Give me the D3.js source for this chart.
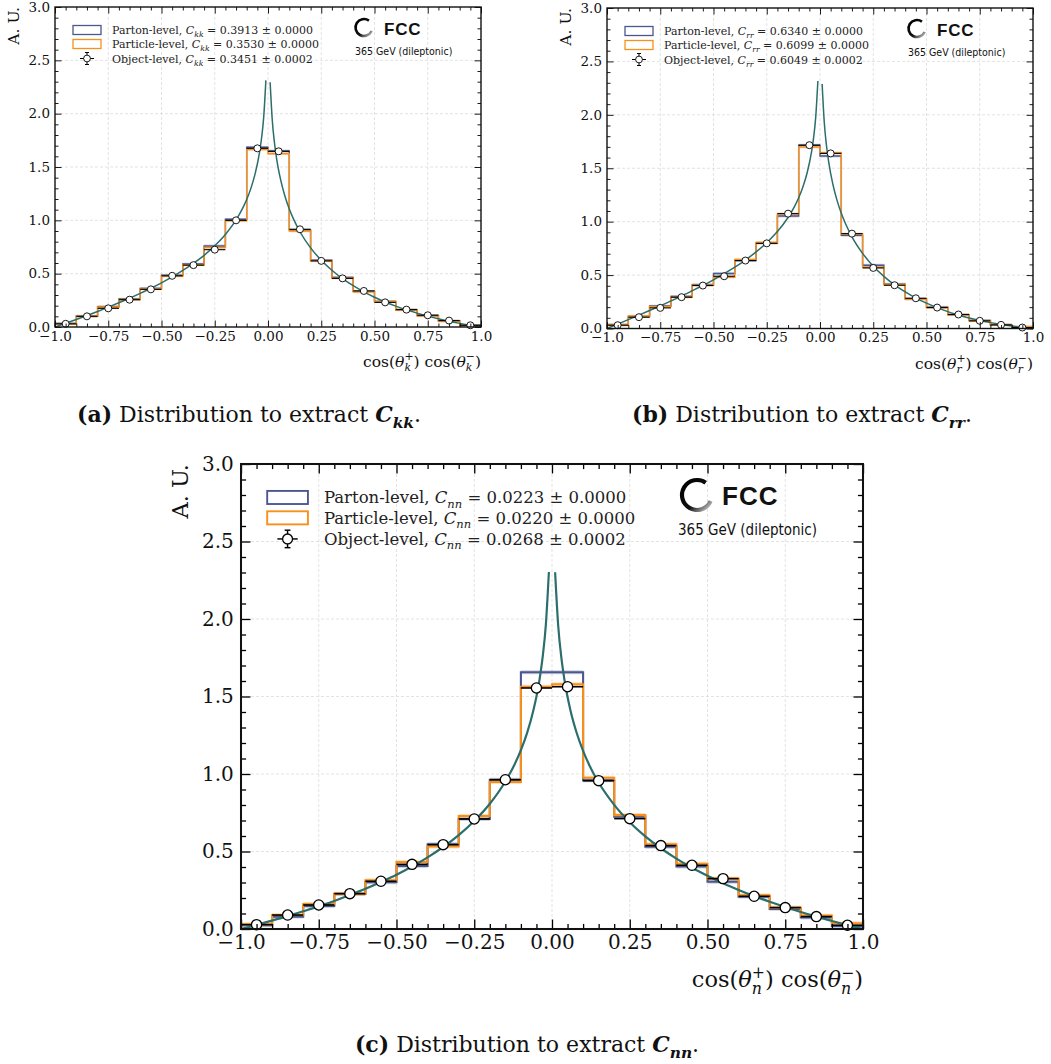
<!DOCTYPE html>
<html>
<head>
<meta charset="utf-8">
<script src="https://cdn.jsdelivr.net/npm/d3@7"></script>
<style>
body { margin: 0; background: #fff; }
svg { display: block; font-family: "DejaVu Serif", serif; }
</style>
</head>
<body>
<div id="fig"></div>
<script>
// bins of cos*cos, width 0.1
var binCenters = [-0.95,-0.85,-0.75,-0.65,-0.55,-0.45,-0.35,-0.25,-0.15,-0.05,0.05,0.15,0.25,0.35,0.45,0.55,0.65,0.75,0.85,0.95];
var xTicks = [-1,-0.75,-0.5,-0.25,0,0.25,0.5,0.75,1];
var xTickLabels = ["\u22121.0","\u22120.75","\u22120.50","\u22120.25","0.00","0.25","0.50","0.75","1.0"];
var yTicks = [0,0.5,1,1.5,2,2.5,3];
var yTickLabels = ["0.0","0.5","1.0","1.5","2.0","2.5","3.0"];

// C_kk
var kkParton   = [0.032,0.102,0.190,0.262,0.362,0.485,0.590,0.760,1.010,1.685,1.650,0.910,0.625,0.465,0.335,0.240,0.162,0.108,0.058,0.016];
var kkParticle = [0.030,0.100,0.188,0.258,0.357,0.478,0.582,0.745,0.995,1.665,1.625,0.900,0.620,0.458,0.330,0.238,0.160,0.105,0.056,0.015];
var kkObject   = [0.030,0.100,0.175,0.256,0.353,0.480,0.580,0.725,1.000,1.675,1.647,0.916,0.620,0.456,0.338,0.231,0.163,0.110,0.060,0.016];
// C_rr
var rrParton   = [0.035,0.112,0.210,0.300,0.410,0.514,0.636,0.800,1.053,1.716,1.614,0.872,0.592,0.415,0.278,0.200,0.130,0.074,0.036,0.016];
var rrParticle = [0.035,0.115,0.205,0.293,0.405,0.480,0.645,0.805,1.075,1.698,1.645,0.885,0.573,0.411,0.274,0.196,0.128,0.072,0.034,0.016];
var rrObject   = [0.031,0.106,0.193,0.293,0.402,0.489,0.636,0.797,1.075,1.716,1.639,0.888,0.567,0.405,0.283,0.196,0.131,0.072,0.034,0.009];
// C_nn
var nnParton   = [0.024,0.080,0.148,0.226,0.302,0.406,0.546,0.710,0.963,1.656,1.656,0.959,0.725,0.531,0.404,0.305,0.209,0.130,0.075,0.019];
var nnParticle = [0.030,0.090,0.161,0.228,0.314,0.432,0.533,0.729,0.948,1.563,1.579,0.976,0.735,0.546,0.421,0.325,0.217,0.138,0.086,0.037];
var nnObject   = [0.028,0.090,0.155,0.228,0.308,0.417,0.544,0.710,0.963,1.555,1.563,0.957,0.712,0.538,0.411,0.325,0.211,0.138,0.080,0.024];

var curveX = [-1,-0.95,-0.9,-0.85,-0.8,-0.75,-0.7,-0.65,-0.6,-0.55,-0.5,-0.45,-0.4,-0.35,-0.3,-0.25,-0.2,-0.15,-0.12,-0.1,-0.08,-0.06,-0.04,-0.03,-0.02,-0.01,0,
              0.01,0.02,0.03,0.04,0.06,0.08,0.1,0.12,0.15,0.2,0.25,0.3,0.35,0.4,0.45,0.5,0.55,0.6,0.65,0.7,0.75,0.8,0.85,0.9,0.95,1];
var kkCurve = [0,0.035,0.071,0.108,0.146,0.186,0.227,0.270,0.315,0.363,0.414,0.469,0.530,0.597,0.672,0.761,0.868,1.004,1.110,1.196,1.302,1.440,1.635,1.774,1.971,2.312,null,
               2.294,1.941,1.733,1.584,1.374,1.223,1.106,1.011,0.893,0.742,0.626,0.532,0.453,0.387,0.329,0.279,0.235,0.196,0.161,0.130,0.102,0.077,0.054,0.034,0.016,0];
var rrCurve = [0,0.041,0.083,0.125,0.168,0.212,0.258,0.304,0.353,0.403,0.456,0.513,0.574,0.641,0.717,0.803,0.907,1.039,1.141,1.224,1.327,1.460,1.650,1.787,1.981,2.317,null,
               2.288,1.931,1.720,1.569,1.353,1.199,1.078,0.980,0.858,0.703,0.583,0.488,0.408,0.342,0.285,0.237,0.195,0.158,0.127,0.099,0.075,0.055,0.038,0.023,0.010,0];
var nnCurve = [0,0.026,0.054,0.083,0.114,0.146,0.181,0.219,0.259,0.303,0.350,0.403,0.462,0.529,0.606,0.697,0.808,0.952,1.063,1.154,1.265,1.409,1.611,1.755,1.957,2.303,null,
               2.302,1.955,1.752,1.608,1.405,1.261,1.149,1.057,0.945,0.801,0.689,0.598,0.521,0.454,0.395,0.343,0.295,0.252,0.212,0.176,0.142,0.110,0.080,0.052,0.025,0];

var kkValues = ["0.3913 \u00b1 0.0000","0.3530 \u00b1 0.0000","0.3451 \u00b1 0.0002"];
var rrValues = ["0.6340 \u00b1 0.0000","0.6099 \u00b1 0.0000","0.6049 \u00b1 0.0002"];
var nnValues = ["0.0223 \u00b1 0.0000","0.0220 \u00b1 0.0000","0.0268 \u00b1 0.0002"];

var partonColor = "#4b5890";
var particleColor = "#f8901a";
var curveColor = "#2b6e6c";

var svg = d3.select("#fig").append("svg")
    .attr("width", 1051)
    .attr("height", 1064);

var defs = svg.append("defs");
var grad = defs.append("linearGradient").attr("id","ringGrad")
    .attr("x1","0.1").attr("y1","0.1").attr("x2","0.9").attr("y2","0.95");
grad.append("stop").attr("offset","0%").attr("stop-color","#000");
grad.append("stop").attr("offset","60%").attr("stop-color","#111");
grad.append("stop").attr("offset","100%").attr("stop-color","#cfcfcf");

// writes text made of pieces: italic, sub, sup, bold
function richText(sel, parts, fs) {
    var base = 0, lastSup = 0, pendingDx = 0;
    parts.forEach(function(p){
        var t = sel.append("tspan").text(p.t);
        if (p.i) t.attr("font-style","italic");
        if (p.b) t.attr("font-weight","bold");
        var target = 0, size = fs;
        if (p.sub) { target = 0.28*fs; size = 0.7*fs; }
        if (p.sup) { target = -0.42*fs; size = 0.7*fs; }
        t.attr("font-size", size);
        if (target !== base) { t.attr("dy", target - base); base = target; }
        var dx = pendingDx;
        pendingDx = 0;
        if (p.back) dx -= lastSup;
        if (dx) t.attr("dx", dx);
        var len = t.node().getComputedTextLength();
        if (p.sup) lastSup = len;
        if (p.back && lastSup > len) pendingDx = lastSup - len;
    });
}

function drawPanel(p) {
    var s = p.s;
    var x = d3.scaleLinear().domain([-1,1]).range([p.x0,p.x1]);
    var y = d3.scaleLinear().domain([0,3]).range([p.y1,p.y0]);
    var g = svg.append("g");

    // grid
    g.append("g").selectAll("line").data(xTicks.slice(1,-1)).join("line")
        .attr("x1",d=>x(d)).attr("x2",d=>x(d)).attr("y1",p.y0).attr("y2",p.y1)
        .attr("stroke","#dcdcdc").attr("stroke-width",0.8).attr("stroke-dasharray","3,2");
    g.append("g").selectAll("line").data(yTicks.slice(1,-1)).join("line")
        .attr("y1",d=>y(d)).attr("y2",d=>y(d)).attr("x1",p.x0).attr("x2",p.x1)
        .attr("stroke","#dcdcdc").attr("stroke-width",0.8).attr("stroke-dasharray","3,2");

    function steps(vals) {
        var pts = [[-1,0]];
        vals.forEach(function(v,i){
            pts.push([binCenters[i]-0.05, v]);
            pts.push([binCenters[i]+0.05, v]);
        });
        pts.push([1,0]);
        return pts;
    }
    var line = d3.line().x(d=>x(d[0])).y(d=>y(d[1]));
    var band = d3.area().x(d=>x(d[0])).y0(d=>y(d[1]-0.013)).y1(d=>y(d[1]+0.013));

    [[p.parton, partonColor],[p.particle, particleColor]].forEach(function(h){
        var pts = steps(h[0]);
        g.append("path").attr("d", band(pts.slice(1,-1)))
            .attr("fill", h[1]).attr("opacity", 0.28);
    });
    [[p.parton, partonColor],[p.particle, particleColor]].forEach(function(h){
        g.append("path").attr("d", line(steps(h[0])))
            .attr("fill","none").attr("stroke", h[1]).attr("stroke-width", 1.45*s);
    });

    // expected curve
    var cl = d3.line().defined(d=>d[1] != null)
        .x(d=>x(d[0])).y(d=>y(d[1])).curve(d3.curveMonotoneX);
    g.append("path").attr("d", cl(curveX.map((v,i)=>[v, p.curve[i]])))
        .attr("fill","none").attr("stroke",curveColor).attr("stroke-width",1.5*s);

    // object level points
    var pg = g.append("g");
    pg.selectAll("line").data(p.object).join("line")
        .attr("x1",(d,i)=>x(binCenters[i]-0.05)).attr("x2",(d,i)=>x(binCenters[i]+0.05))
        .attr("y1",d=>y(d)).attr("y2",d=>y(d))
        .attr("stroke","#000").attr("stroke-width",1.1*s);
    pg.selectAll("circle").data(p.object).join("circle")
        .attr("cx",(d,i)=>x(binCenters[i])).attr("cy",d=>y(d)).attr("r",3.5*s)
        .attr("fill","#fff").attr("stroke","#000").attr("stroke-width",0.9*s);

    // axes with inward ticks on all sides
    var fmtX = d => xTickLabels[xTicks.indexOf(d)];
    var fmtY = d => yTickLabels[yTicks.indexOf(d)];
    var xMinor = d3.range(-1, 1.001, 0.05).filter(v => xTicks.every(t => Math.abs(t - v) > 1e-6));
    var yMinor = d3.range(0, 3.001, 0.1).filter(v => yTicks.every(t => Math.abs(t - v) > 1e-6));
    var major = 6.5*s, minor = 3.5*s;

    function addAxis(axis, tr) {
        var a = g.append("g").attr("transform", tr).call(axis);
        a.select(".domain").remove();
        a.selectAll("line").attr("stroke","#000").attr("stroke-width",0.9*s);
        a.selectAll("text").attr("font-size",p.fs).attr("font-family","DejaVu Serif, serif").attr("fill","#111");
        return a;
    }
    addAxis(d3.axisBottom(x).tickValues(xTicks).tickFormat(fmtX).tickSize(-major).tickPadding(4*s), "translate(0,"+p.y1+")");
    addAxis(d3.axisBottom(x).tickValues(xMinor).tickFormat("").tickSize(-minor), "translate(0,"+p.y1+")");
    addAxis(d3.axisTop(x).tickValues(xTicks).tickFormat("").tickSize(-major), "translate(0,"+p.y0+")");
    addAxis(d3.axisTop(x).tickValues(xMinor).tickFormat("").tickSize(-minor), "translate(0,"+p.y0+")");
    addAxis(d3.axisLeft(y).tickValues(yTicks).tickFormat(fmtY).tickSize(-major).tickPadding(5*s), "translate("+p.x0+",0)");
    addAxis(d3.axisLeft(y).tickValues(yMinor).tickFormat("").tickSize(-minor), "translate("+p.x0+",0)");
    addAxis(d3.axisRight(y).tickValues(yTicks).tickFormat("").tickSize(-major), "translate("+p.x1+",0)");
    addAxis(d3.axisRight(y).tickValues(yMinor).tickFormat("").tickSize(-minor), "translate("+p.x1+",0)");

    g.append("rect").attr("x",p.x0).attr("y",p.y0)
        .attr("width",p.x1-p.x0).attr("height",p.y1-p.y0)
        .attr("fill","none").attr("stroke","#111").attr("stroke-width",1.4*s);

    // axis titles
    g.append("text")
        .attr("transform","translate("+(p.x0-47*s)+","+p.y0+") rotate(-90)")
        .attr("text-anchor","end").attr("dy","0.7em")
        .attr("font-size",p.afs).attr("fill","#111").text("A. U.");

    var xl = g.append("text").attr("x",p.x1).attr("y",p.y1+40*s)
        .attr("text-anchor","end").attr("font-size",p.afs).attr("fill","#111");
    richText(xl, [
        {t:"cos("},{t:"\u03b8",i:true},{t:"+",sup:true},{t:p.idx,i:true,sub:true,back:true},{t:")"},
        {t:" cos("},{t:"\u03b8",i:true},{t:"\u2212",sup:true},{t:p.idx,i:true,sub:true,back:true},{t:")"}
    ], p.afs);

    // legend
    var lfs = p.lfs;
    var lx = p.x0 + 18*s, rows = [p.y0+23*s, p.y0+37*s, p.y0+51.5*s];
    [partonColor, particleColor].forEach(function(c, i){
        g.append("rect").attr("x",lx).attr("y",rows[i]-4.5*s)
            .attr("width",28*s).attr("height",9*s)
            .attr("fill","none").attr("stroke",c).attr("stroke-width",1.3*s);
    });
    var mx = lx + 14*s, my = rows[2];
    g.append("line").attr("x1",mx-7*s).attr("x2",mx+7*s).attr("y1",my).attr("y2",my)
        .attr("stroke","#000").attr("stroke-width",1*s);
    g.append("line").attr("x1",mx).attr("x2",mx).attr("y1",my-6*s).attr("y2",my+6*s)
        .attr("stroke","#000").attr("stroke-width",1*s);
    [my-6*s, my+6*s].forEach(function(cy){
        g.append("line").attr("x1",mx-2*s).attr("x2",mx+2*s).attr("y1",cy).attr("y2",cy)
            .attr("stroke","#000").attr("stroke-width",1*s);
    });
    g.append("circle").attr("cx",mx).attr("cy",my).attr("r",3.4*s)
        .attr("fill","#fff").attr("stroke","#000").attr("stroke-width",0.9*s);
    var names = ["Parton-level, ","Particle-level, ","Object-level, "];
    names.forEach(function(n, i){
        var t = g.append("text").attr("x",p.x0+57*s).attr("y",rows[i]+4*s)
            .attr("font-size",lfs).attr("fill","#222");
        richText(t, [{t:n},{t:"C",i:true},{t:p.idx+p.idx,i:true,sub:true},{t:" = "+p.values[i]}], lfs);
    });

    // FCC logo: open ring, dark at top-left fading towards lower right
    var L = p.logo;
    g.append("path").attr("transform","translate("+L.cx+","+L.cy+")")
        .attr("d", d3.arc()({innerRadius:L.r-L.w/2, outerRadius:L.r+L.w/2,
            startAngle:2.0, endAngle:2*Math.PI+0.62}))
        .attr("fill","url(#ringGrad)");
    g.append("text").attr("x",L.tx).attr("y",L.ty)
        .attr("font-family","Liberation Sans, Arial, sans-serif").attr("font-weight","bold")
        .attr("font-size",L.tfs).attr("letter-spacing",L.ls).attr("fill","#111").text("FCC");
    g.append("text").attr("x",L.sx).attr("y",L.sy)
        .attr("font-family","DejaVu Sans Condensed, Liberation Sans, sans-serif")
        .attr("font-size",L.sfs).attr("fill","#111").text("365 GeV (dileptonic)");

    // caption
    var cfs = 22;
    var cap = svg.append("text").attr("x",p.capX).attr("y",p.capY)
        .attr("text-anchor","middle").attr("font-size",cfs).attr("fill","#111");
    richText(cap, [
        {t:"("+p.letter+")",b:true},{t:" Distribution to extract "},
        {t:"C",i:true,b:true},{t:p.idx+p.idx,i:true,b:true,sub:true},{t:"."}
    ], cfs);
}

drawPanel({x0:55, x1:481, y0:7, y1:327, s:1, fs:13.5, afs:15.5, lfs:11, idx:"k", letter:"a",
    parton:kkParton, particle:kkParticle, object:kkObject, curve:kkCurve, values:kkValues,
    logo:{cx:364, cy:27.5, r:8.5, w:2.6, tx:384, ty:34.5, tfs:17, ls:0.8, sx:355, sy:55, sfs:10.5},
    capX:249, capY:422});
drawPanel({x0:607, x1:1033, y0:8, y1:328.5, s:1, fs:13.5, afs:15.5, lfs:11, idx:"r", letter:"b",
    parton:rrParton, particle:rrParticle, object:rrObject, curve:rrCurve, values:rrValues,
    logo:{cx:917, cy:28.5, r:8.5, w:2.6, tx:937, ty:35.5, tfs:17, ls:0.8, sx:908, sy:56, sfs:10.5},
    capX:802, capY:422});
drawPanel({x0:241, x1:863, y0:464, y1:929, s:1.455, fs:20, afs:22.5, lfs:16.5, idx:"n", letter:"c",
    parton:nnParton, particle:nnParticle, object:nnObject, curve:nnCurve, values:nnValues,
    logo:{cx:697, cy:495, r:15, w:4.2, tx:722, ty:505, tfs:26, ls:1, sx:678, sy:535, sfs:15},
    capX:527, capY:1052});
</script>
</body>
</html>
